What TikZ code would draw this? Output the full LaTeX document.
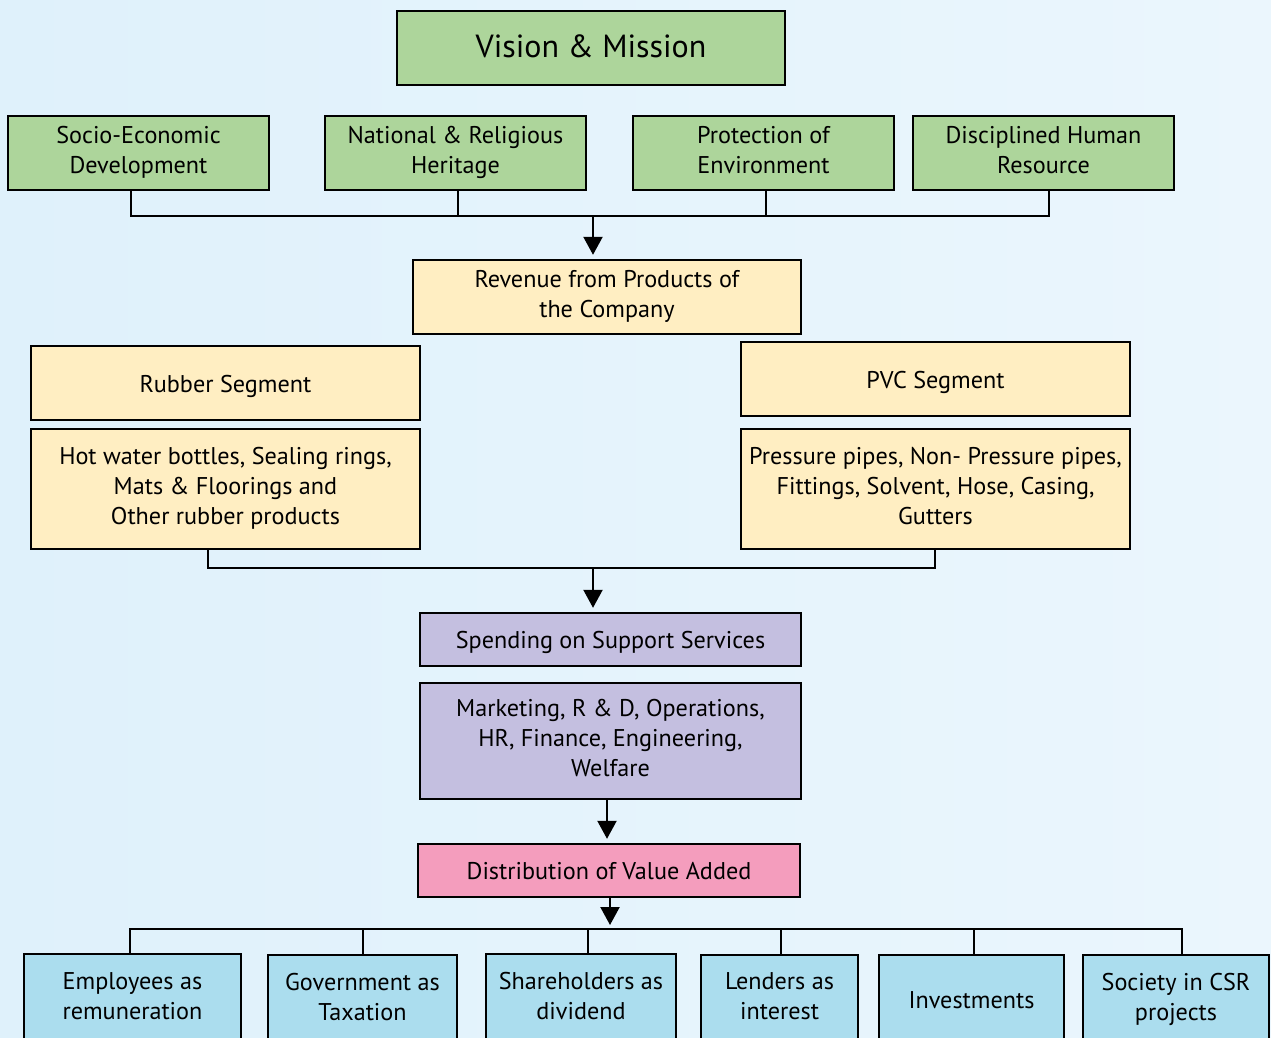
\documentclass[tikz,border=0pt]{standalone}
\usepackage{fontspec}
\setmainfont{PT Sans}
\usetikzlibrary{arrows.meta,calc}
\definecolor{bgL}{HTML}{DFF1FB}
\definecolor{bgR}{HTML}{EBF6FD}
\definecolor{cgreen}{HTML}{ADD59B}
\definecolor{cyellow}{HTML}{FFEEC2}
\definecolor{cpurple}{HTML}{C4BFE0}
\definecolor{cpink}{HTML}{F49DBD}
\definecolor{cblue}{HTML}{ABDDEE}
\newcommand{\boxfont}{\fontsize{24.2}{30}\selectfont}
\newcommand{\mystrut}{\rule[-6pt]{0pt}{30pt}}
\tikzset{
  box/.style={draw=black, line width=2.4pt, inner sep=0pt, align=center, font=\boxfont, text=black,
    execute at begin node=\mystrut, execute at end node=\mystrut},
  gbox/.style={box, fill=cgreen},
  ybox/.style={box, fill=cyellow},
  pbox/.style={box, fill=cpurple},
  kbox/.style={box, fill=cpink},
  bbox/.style={box, fill=cblue},
  link/.style={line width=2.2pt, black},
  arr/.style={link, -{Triangle[length=18pt,width=19pt]}, shorten >=4pt}
}
\begin{document}
\begin{tikzpicture}[x=1pt,y=-1pt]
\useasboundingbox (0,0) rectangle (1271,1037);
\clip (0,0) rectangle (1271,1037);
\shade[left color=bgL, right color=bgR] (0,0) rectangle (1271,1037);

\node[gbox, minimum width=388pt, minimum height=74pt, font=\fontsize{32}{38}\selectfont] (vm) at (591,48) {Vision \& Mission};

\node[gbox, minimum width=261pt, minimum height=74pt] (soc) at (138.5,153) {Socio-Economic\\Development};
\node[gbox, minimum width=261pt, minimum height=74pt] (nat) at (455.5,153) {National \& Religious\\Heritage};
\node[gbox, minimum width=261pt, minimum height=74pt] (pro) at (763.5,153) {Protection of\\Environment};
\node[gbox, minimum width=261pt, minimum height=74pt] (dhr) at (1043.5,153) {Disciplined Human\\Resource};

\node[ybox, minimum width=388pt, minimum height=74pt] (rev) at (607,297) {Revenue from Products of\\the Company};

\node[ybox, minimum width=389pt, minimum height=74pt] (rs) at (225.5,383) {Rubber Segment};
\node[ybox, minimum width=389pt, minimum height=120pt] (rp) at (225.5,489) {Hot water bottles, Sealing rings,\\Mats \& Floorings and\\Other rubber products};
\node[ybox, minimum width=389pt, minimum height=74pt] (ps) at (935.5,379) {PVC Segment};
\node[ybox, minimum width=389pt, minimum height=120pt] (pp) at (935.5,489) {Pressure pipes, Non- Pressure pipes,\\Fittings, Solvent, Hose, Casing,\\Gutters};

\node[pbox, minimum width=381pt, minimum height=53pt] (sp) at (610.5,639.5) {Spending on Support Services};
\node[pbox, minimum width=381pt, minimum height=116pt] (mk) at (610.5,741) {Marketing, R \& D, Operations,\\HR, Finance, Engineering,\\Welfare};

\node[kbox, minimum width=382pt, minimum height=53pt] (dist) at (609,870.5) {Distribution of Value Added};

\node[bbox, minimum width=217pt, minimum height=90pt] (emp) at (132.5,999) {Employees as\\remuneration};
\node[bbox, minimum width=189pt, minimum height=89pt] (gov) at (362.5,999.5) {Government as\\Taxation};
\node[bbox, minimum width=190pt, minimum height=90pt] (sh) at (581,999) {Shareholders as\\dividend};
\node[bbox, minimum width=157pt, minimum height=89pt] (len) at (779.5,999.5) {Lenders as\\interest};
\node[bbox, minimum width=185pt, minimum height=89pt] (inv) at (971.5,999.5) {Investments};
\node[bbox, minimum width=186pt, minimum height=89pt] (csr) at (1176,999.5) {Society in CSR\\projects};

% top bus
\coordinate (busT) at (593,216);
\draw[link] (soc.south -| 131,0) |- (busT) -| (dhr.south -| 1049,0);
\draw[link] (nat.south -| 458,0) -- (458,0 |- busT);
\draw[link] (pro.south -| 766,0) -- (766,0 |- busT);
\draw[arr] (busT) -- (busT |- rev.north);

% middle bus
\coordinate (busM) at (593,568);
\draw[link] (rp.south -| 208,0) |- (busM) -| (pp.south -| 935,0);
\draw[arr] (busM) -- (busM |- sp.north);

\draw[arr] (mk.south -| 607,0) -- (607,0 |- dist.north);

% bottom bus
\coordinate (busB) at (610,929);
\draw[arr] (dist.south -| 610,0) -- (busB);
\draw[link] (emp.north -| 130,0) |- (busB) -| (csr.north -| 1182,0);
\draw[link] (gov.north -| 363,0) -- (363,0 |- busB);
\draw[link] (sh.north -| 588,0) -- (588,0 |- busB);
\draw[link] (len.north -| 781,0) -- (781,0 |- busB);
\draw[link] (inv.north -| 974,0) -- (974,0 |- busB);
\end{tikzpicture}
\end{document}
